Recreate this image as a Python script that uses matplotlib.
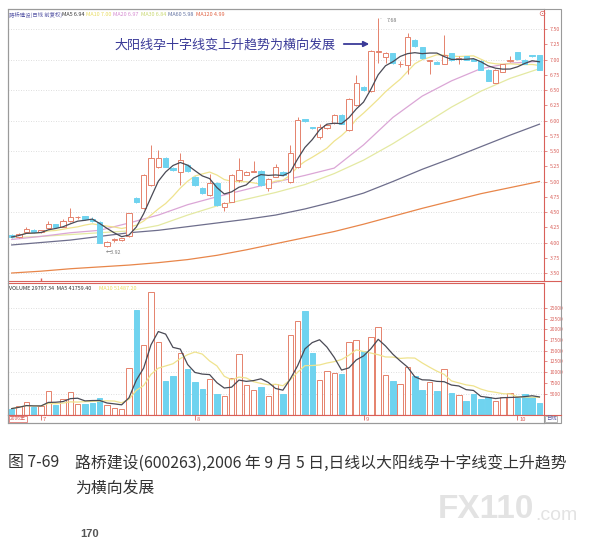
import numpy as np
import pandas as pd
import matplotlib
matplotlib.use('Agg')
import matplotlib.pyplot as plt
from matplotlib.patches import Rectangle
from matplotlib.lines import Line2D

plt.rcParams['font.family'] = ['Noto Sans CJK SC', 'DejaVu Sans']

# daily candles (2006-06-26 .. 2006-10-12)
opens = [4.13, 4.09, 4.17, 4.21, 4.17, 4.23, 4.30, 4.26, 4.36, 4.41,
         4.43, 4.39, 4.33, 3.95, 4.04, 4.04, 4.10, 4.73, 4.56, 4.94,
         5.23, 5.39, 5.22, 5.15, 5.27, 5.08, 4.90, 4.78, 4.98, 4.58,
         4.67, 5.02, 5.11, 5.16, 5.18, 4.89, 5.08, 5.16, 4.99, 5.24,
         6.02, 5.89, 5.73, 5.88, 5.96, 6.09, 5.84, 6.25, 6.55, 6.49,
         7.13, 7.04, 7.10, 6.92, 6.91, 7.32, 7.20, 6.98, 6.96, 6.93,
         7.10, 7.01, 7.05, 7.01, 6.98, 6.83, 6.62, 6.80, 6.98, 7.12,
         7.00, 7.07, 7.07]
closes = [4.09, 4.14, 4.22, 4.17, 4.20, 4.31, 4.25, 4.36, 4.41, 4.42,
          4.38, 4.35, 4.00, 4.01, 4.05, 4.07, 4.48, 4.66, 5.10, 5.39,
          5.39, 5.24, 5.19, 5.35, 5.17, 4.94, 4.81, 4.97, 4.61, 4.65,
          5.11, 5.19, 5.16, 5.17, 4.94, 5.04, 5.23, 5.10, 5.46, 6.01,
          5.99, 5.87, 5.90, 5.93, 6.09, 5.95, 6.36, 6.61, 6.50, 7.14,
          7.14, 7.10, 6.94, 6.93, 7.37, 7.22, 7.02, 6.99, 6.93, 7.08,
          6.99, 7.02, 7.00, 6.98, 6.83, 6.65, 6.83, 6.92, 6.99, 7.01,
          6.93, 7.05, 6.83]
highs = [4.14, 4.16, 4.25, 4.22, 4.21, 4.36, 4.31, 4.38, 4.57, 4.44,
         4.44, 4.41, 4.35, 4.03, 4.08, 4.08, 4.49, 4.74, 5.12, 5.60,
         5.52, 5.40, 5.23, 5.47, 5.28, 5.09, 4.91, 5.13, 4.99, 4.67,
         5.12, 5.38, 5.18, 5.34, 5.19, 5.05, 5.29, 5.17, 5.60, 6.05,
         6.03, 5.90, 5.95, 5.95, 6.10, 6.10, 6.37, 6.75, 6.56, 7.15,
         7.68, 7.13, 7.11, 6.97, 7.43, 7.33, 7.21, 7.00, 6.97, 7.40,
         7.11, 7.05, 7.06, 7.02, 6.99, 6.84, 6.84, 6.93, 7.06, 7.13,
         7.01, 7.08, 7.08]
lows = [4.07, 4.08, 4.15, 4.16, 4.16, 4.22, 4.24, 4.25, 4.34, 4.38,
        4.37, 4.33, 3.99, 3.92, 4.01, 4.03, 4.09, 4.65, 4.55, 4.92,
        5.22, 5.23, 5.18, 4.94, 5.16, 4.93, 4.80, 4.77, 4.60, 4.51,
        4.66, 5.00, 5.10, 5.15, 4.93, 4.84, 5.07, 5.09, 4.98, 5.22,
        5.98, 5.86, 5.70, 5.86, 5.95, 5.94, 5.83, 6.24, 6.49, 6.47,
        6.94, 6.94, 6.93, 6.88, 6.76, 7.21, 7.01, 6.76, 6.92, 6.92,
        6.98, 6.93, 6.99, 6.97, 6.82, 6.64, 6.61, 6.79, 6.96, 7.00,
        6.92, 7.04, 6.82]
volumes = [1500, 2100, 3000, 1900, 2100, 5600, 2300, 3800, 5300, 2600,
           2500, 2700, 3900, 2300, 1600, 1400, 10900, 24500, 16400, 28700,
           17000, 7900, 9000, 14400, 10700, 7700, 6000, 8400, 4900, 4500,
           8700, 14300, 6900, 5800, 6600, 4500, 7200, 4900, 18800, 22000,
           24300, 14600, 8200, 10300, 9900, 9500, 17100, 17500, 15000, 18300,
           20500, 9300, 7900, 7200, 11100, 9100, 5800, 7600, 5700, 10700,
           5200, 4700, 3300, 4800, 3700, 4100, 3300, 4300, 5100, 4000,
           4800, 4300, 2900]

# longer moving averages, read every 4 sessions
ma_idx = list(range(0, 73, 4))
ma20 = [4.05, 4.10, 4.16, 4.20, 4.32, 4.45, 4.62, 4.75, 4.87, 4.99,
        5.10, 5.22, 5.60, 6.05, 6.40, 6.65, 6.85, 6.94, 6.97]
ma30 = [4.08, 4.10, 4.13, 4.16, 4.19, 4.28, 4.45, 4.60, 4.71, 4.82,
        4.95, 5.13, 5.35, 5.62, 5.92, 6.22, 6.48, 6.69, 6.85]
ma60 = [3.96, 4.00, 4.04, 4.10, 4.16, 4.20, 4.26, 4.32, 4.38, 4.45,
        4.55, 4.67, 4.81, 5.00, 5.20, 5.38, 5.57, 5.76, 5.94]
ma120 = [3.50, 3.53, 3.57, 3.60, 3.63, 3.67, 3.72, 3.79, 3.88, 3.98,
         4.08, 4.18, 4.30, 4.43, 4.56, 4.68, 4.80, 4.90, 5.00]

month_pos = [4, 25, 48, 69]
month_lab = ['7', '8', '9', '10']
price_ticks = np.arange(3.5, 7.51, 0.25)
price_grid = np.arange(3.5, 7.51, 0.5)
vol_ticks = np.arange(5000, 25001, 2500)
vol_grid = np.arange(5000, 25001, 5000)

UP = '#e5826c'
DOWN = '#6fd3ef'
RED = '#d9605a'
W, H = 610, 539


def fx(px):
    return px / W


def fy(py):
    return 1 - py / H


n = len(closes)
x = np.arange(n)
o = np.array(opens)
c = np.array(closes)
up = c >= o
ma5 = pd.Series(closes).rolling(5, min_periods=1).mean()
ma10 = pd.Series(closes).rolling(10, min_periods=1).mean()
vma5 = pd.Series(volumes).rolling(5, min_periods=1).mean()
vma10 = pd.Series(volumes).rolling(10, min_periods=1).mean()

fig = plt.figure(figsize=(6.1, 5.39), dpi=100)
xlim = (-0.505, 72.62)

# ---- price panel
ax = fig.add_axes([fx(8), fy(281), 536 / W, 272 / H])
ax.set_xlim(*xlim)
ax.set_ylim(3.369, 7.828)
for g in price_grid:
    ax.axhline(g, color='#d4d4d4', lw=0.6, ls=(0, (1, 2)), zorder=0)

ax.plot(ma_idx, ma120, color='#e8864a', lw=0.9, zorder=1)
ax.plot(ma_idx, ma60, color='#6e6e8c', lw=0.9, zorder=1)
ax.plot(ma_idx, ma30, color='#e4e9a2', lw=0.9, zorder=1)
ax.plot(ma_idx, ma20, color='#dba6d6', lw=0.9, zorder=1)
ax.plot(x, ma10, color='#efe38e', lw=0.9, zorder=1)

cols = np.where(up, UP, DOWN)
ax.vlines(x, lows, highs, colors=cols, lw=0.7, zorder=2)
bottoms = np.minimum(o, c)
heights = np.maximum(np.abs(c - o), 0.008)
ax.bar(x, heights, bottom=bottoms, width=0.72,
       color=np.where(up, 'white', DOWN), edgecolor=cols, lw=0.7, zorder=3)
ax.plot(x, ma5, color='#4a4a55', lw=0.9, zorder=4)

ax.annotate('7.68', xy=(50, highs[50]), xytext=(6, -2), textcoords='offset points',
            fontsize=3.8, color='#777', va='center',
            arrowprops=dict(arrowstyle='-', color='#888', lw=0.5))
ax.annotate('←3.92', xy=(13, lows[13]), xytext=(-1, -4), textcoords='offset points',
            fontsize=3.8, color='#777', va='center')

ax.yaxis.tick_right()
ax.set_yticks(price_ticks)
ax.set_yticklabels(['%.2f' % t for t in price_ticks])
ax.tick_params(axis='y', labelsize=3.8, labelcolor=RED, color=RED, length=2, pad=2, width=0.5)
ax.set_xticks([])
for s in ['top', 'left']:
    ax.spines[s].set_color('#9a9a9a')
for s in ['bottom', 'right']:
    ax.spines[s].set_color(RED)
for s in ax.spines.values():
    s.set_linewidth(0.8)
ax.vlines(month_pos[0], 3.369, 3.42, color=RED, lw=1.0)

# header of the price panel
hdr = [(9, '路桥建设(日线 前复权)', '#5a5aa8'), (62, 'MA5 6.94', '#333333'),
       (86, 'MA10 7.00', '#e8dc60'), (113, 'MA20 6.97', '#d58ad0'),
       (141, 'MA30 6.84', '#c8d870'), (168, 'MA60 5.98', '#6070a0'),
       (196, 'MA120 4.99', '#e06040')]
for px, t, col in hdr:
    fig.text(fx(px), fy(15), t, fontsize=3.9, color=col, va='center')
fig.text(fx(538), fy(14), '⊙', fontsize=6, color=RED, va='center', family='DejaVu Sans')

fig.text(fx(114), fy(45), '大阳线孕十字线变上升趋势为横向发展', fontsize=9.4,
         color='#3a3a98', va='center')
ax.annotate('', xy=(fx(372), fy(44)), xytext=(fx(341), fy(44)),
            xycoords='figure fraction', textcoords='figure fraction',
            arrowprops=dict(arrowstyle='-|>', color='#3a3a98', lw=1.3,
                            mutation_scale=8))

# ---- volume panel
vx = fig.add_axes([fx(8), fy(415), 536 / W, 132 / H])
vx.set_xlim(*xlim)
vx.set_ylim(0, 30840)
for g in vol_grid:
    vx.axhline(g, color='#d4d4d4', lw=0.6, ls=(0, (1, 2)), zorder=0)
vx.bar(x, volumes, width=0.74, color=np.where(up, 'white', DOWN),
       edgecolor=cols, lw=0.7, zorder=2)
vx.plot(x, vma10, color='#efe38e', lw=0.9, zorder=3)
vx.plot(x, vma5, color='#4a4a55', lw=0.9, zorder=4)
vx.yaxis.tick_right()
vx.set_yticks(vol_ticks)
vx.set_yticklabels(['%d' % t for t in vol_ticks])
vx.tick_params(axis='y', labelsize=3.5, labelcolor=RED, color=RED, length=2, pad=2, width=0.5)
vx.set_xticks([])
for s in vx.spines.values():
    s.set_color(RED)
    s.set_linewidth(0.8)
vx.spines['left'].set_color('#9a9a9a')
fig.text(fx(9), fy(288), 'VOLUME 29797.34  MA5 41759.40', fontsize=3.9, color='#333', va='center')
fig.text(fx(99), fy(288), 'MA10 51487.20', fontsize=3.9, color='#e8dc60', va='center')

# ---- date strip
dx = fig.add_axes([fx(8), fy(423), 536 / W, 8 / H])
dx.set_xlim(*xlim)
dx.set_ylim(0, 1)
dx.set_xticks([])
dx.set_yticks([])
for s in dx.spines.values():
    s.set_color('#9a9a9a')
    s.set_linewidth(0.8)
dx.spines['top'].set_color(RED)
dx.vlines(month_pos, 0.4, 1, color=RED, lw=0.6)
for m, lab in zip(month_pos, month_lab):
    dx.text(m + 0.25, 0.45, lab, fontsize=4.2, color=RED, va='center')
fig.text(fx(10), fy(419), '2006年', fontsize=3.6, color=RED, va='center',
         bbox=dict(boxstyle='square,pad=0.15', fc='white', ec=RED, lw=0.5))
fig.text(fx(546), fy(419), '日线', fontsize=3.8, color='#5a5aa8', va='center',
         bbox=dict(boxstyle='square,pad=0.15', fc='white', ec='#9a9a9a', lw=0.5))

# outer frame
fig.add_artist(Rectangle((fx(8), fy(423)), (561 - 8) / W, (423 - 9) / H,
                         transform=fig.transFigure, fill=False, ec='#9a9a9a', lw=0.8))
fig.add_artist(Line2D([fx(544), fx(561)], [fy(281), fy(281)], color=RED, lw=0.8))
fig.add_artist(Line2D([fx(544), fx(561)], [fy(415), fy(415)], color=RED, lw=0.8))

# caption
fig.text(fx(8), fy(463), '图 7-69', fontsize=11.4, color='#333', va='center')
fig.text(fx(75), fy(463), '路桥建设(600263),2006 年 9 月 5 日,日线以大阳线孕十字线变上升趋势',
         fontsize=11.4, color='#333', va='center')
fig.text(fx(75), fy(488), '为横向发展', fontsize=11.4, color='#333', va='center')

# watermark
fig.text(fx(438), fy(509), 'FX110', fontsize=24, fontweight='bold', color='#e3e3e3',
         va='center', family='Liberation Sans')
fig.text(fx(535), fy(515), '.com', fontsize=14, color='#e3e3e3', va='center',
         family='Liberation Sans')
fig.text(fx(80), fy(539), '170', fontsize=8, fontweight='bold', color='#555', va='bottom',
         family='Liberation Sans')

fig.savefig('out.png', dpi=100)
